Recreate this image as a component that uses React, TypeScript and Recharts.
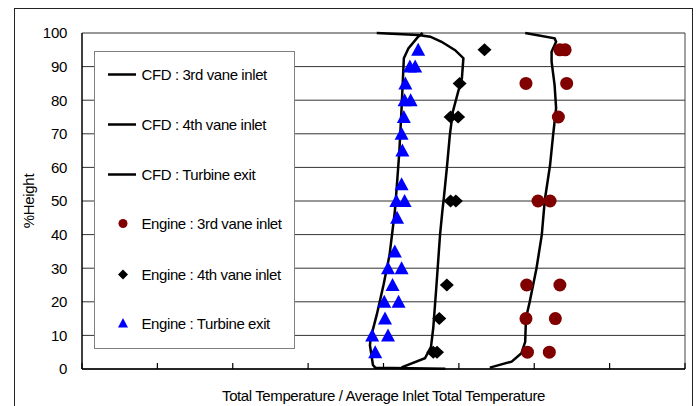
import {
  CartesianGrid,
  Legend,
  ReferenceLine,
  Scatter,
  ScatterChart,
  XAxis,
  YAxis
} from "recharts"

interface Pt {
  x: number,
  y: number,
}

const heightTicks = [0, 10, 20, 30, 40, 50, 60, 70, 80, 90, 100]
const tempTicks = [0.6, 0.7, 0.8, 0.9, 1.0, 1.1, 1.2, 1.3, 1.4]

const cfd3rdVane: Pt[] = [
  { x: 1.188, y: 100 }, { x: 1.227, y: 98.4 }, { x: 1.229, y: 97.4 }, { x: 1.223, y: 94.4 },
  { x: 1.223, y: 91.5 }, { x: 1.227, y: 84.5 }, { x: 1.229, y: 77.6 }, { x: 1.225, y: 69.6 },
  { x: 1.221, y: 60.7 }, { x: 1.214, y: 50.3 }, { x: 1.21, y: 39.9 }, { x: 1.203, y: 30 },
  { x: 1.194, y: 20 }, { x: 1.189, y: 15.1 }, { x: 1.188, y: 8.1 }, { x: 1.183, y: 4.7 },
  { x: 1.17, y: 2.2 }, { x: 1.141, y: 0.4 }
]

const cfd4thVane: Pt[] = [
  { x: 0.991, y: 100 }, { x: 1.046, y: 99.4 }, { x: 1.062, y: 98.9 }, { x: 1.077, y: 97.4 },
  { x: 1.095, y: 94.9 }, { x: 1.106, y: 92.5 }, { x: 1.104, y: 86.5 }, { x: 1.099, y: 82.5 },
  { x: 1.092, y: 76.6 }, { x: 1.088, y: 69.6 }, { x: 1.084, y: 59.7 }, { x: 1.08, y: 50.8 },
  { x: 1.078, y: 46.8 }, { x: 1.075, y: 39.9 }, { x: 1.07, y: 24.1 }, { x: 1.066, y: 12.2 },
  { x: 1.063, y: 6.6 }, { x: 1.055, y: 3.2 }, { x: 1.024, y: 0.5 }
]

const cfdTurbineExit: Pt[] = [
  { x: 1.052, y: 100 }, { x: 1.046, y: 98.9 }, { x: 1.033, y: 95.4 }, { x: 1.027, y: 92.5 },
  { x: 1.026, y: 87.5 }, { x: 1.024, y: 77.7 }, { x: 1.021, y: 64.7 }, { x: 1.018, y: 55.4 },
  { x: 1.015, y: 46.8 }, { x: 1.008, y: 33.9 }, { x: 1.0, y: 25 }, { x: 0.991, y: 16.1 },
  { x: 0.983, y: 9.2 }, { x: 0.982, y: 7.1 }, { x: 0.986, y: 1.2 }, { x: 0.989, y: 0.4 },
  { x: 1.082, y: 0.1 }
]

const engine3rdVane: Pt[] = [
  { x: 1.234, y: 95 }, { x: 1.241, y: 95 }, { x: 1.189, y: 85 }, { x: 1.243, y: 85 },
  { x: 1.232, y: 75 }, { x: 1.205, y: 50 }, { x: 1.221, y: 50 }, { x: 1.19, y: 25 },
  { x: 1.234, y: 25 }, { x: 1.189, y: 15 }, { x: 1.228, y: 15 }, { x: 1.191, y: 5 },
  { x: 1.22, y: 5 }
]

const engine4thVane: Pt[] = [
  { x: 1.134, y: 95 }, { x: 1.101, y: 85 }, { x: 1.089, y: 75 }, { x: 1.099, y: 75 },
  { x: 1.089, y: 50 }, { x: 1.096, y: 50 }, { x: 1.084, y: 25 }, { x: 1.074, y: 15 },
  { x: 1.066, y: 5 }, { x: 1.071, y: 5 }
]

const engineTurbineExit: Pt[] = [
  { x: 1.046, y: 95 }, { x: 1.035, y: 90 }, { x: 1.042, y: 90 }, { x: 1.029, y: 85 },
  { x: 1.028, y: 80 }, { x: 1.036, y: 80 }, { x: 1.027, y: 75 }, { x: 1.024, y: 70 },
  { x: 1.025, y: 65 }, { x: 1.024, y: 55 }, { x: 1.017, y: 50 }, { x: 1.028, y: 50 },
  { x: 1.018, y: 45 }, { x: 1.015, y: 35 }, { x: 1.006, y: 30 }, { x: 1.024, y: 30 },
  { x: 1.012, y: 25 }, { x: 1.001, y: 20 }, { x: 1.02, y: 20 }, { x: 1.002, y: 15 },
  { x: 0.985, y: 10 }, { x: 1.006, y: 10 }, { x: 0.989, y: 5 }
]

const legendLabels = [
  "CFD : 3rd vane inlet",
  "CFD : 4th vane inlet",
  "CFD : Turbine exit",
  "Engine : 3rd vane inlet",
  "Engine : 4th vane inlet",
  "Engine : Turbine exit"
]

const FONT = "'Liberation Sans', Arial, sans-serif"
const RED = "#800000"
const BLUE = "#0000ff"

const NoMarker = () => <g />

const Dot = (p: any) => <circle cx={p.cx} cy={p.cy} r={6.5} fill={RED} />

const Diamond = (p: any) => (
  <path d={`M${p.cx},${p.cy - 6.5} L${p.cx + 7},${p.cy} L${p.cx},${p.cy + 6.5} L${p.cx - 7},${p.cy} Z`} fill="#000" />
)

const Triangle = (p: any) => (
  <path d={`M${p.cx},${p.cy - 7} L${p.cx + 7},${p.cy + 6} L${p.cx - 7},${p.cy + 6} Z`} fill={BLUE} />
)

const InwardTick = (p: any) => (
  <line x1={p.x} y1={p.y} x2={p.x} y2={p.y - 6} stroke="#000" strokeWidth={1.2} />
)

const LegendBox = () => {
  const rows = [24, 74, 124, 173, 224, 273]
  return (
    <div style={{
      width: 201, height: 298, boxSizing: "border-box",
      border: "1.5px solid #808080", background: "#fff"
    }}>
      <svg width={198} height={295} style={{ display: "block" }}>
        {legendLabels.map((label, i) => {
          const y = rows[i] - 1.5
          let sym
          if (i < 3) sym = <line x1={13} x2={41} y1={y} y2={y} stroke="#000" strokeWidth={2.5} />
          else if (i === 3) sym = <circle cx={28} cy={y} r={4.5} fill={RED} />
          else if (i === 4) sym = <path d={`M28,${y - 5} L33,${y} L28,${y + 5} L23,${y} Z`} fill="#000" />
          else sym = <path d={`M28,${y - 5.5} L33,${y + 4} L23,${y + 4} Z`} fill={BLUE} />
          return (
            <g key={label}>
              {sym}
              <text x={46.5} y={y} dy="0.36em" fontFamily={FONT} fontSize={15}
                letterSpacing={-0.4} fill="#000">{label}</text>
            </g>
          )
        })}
      </svg>
    </div>
  )
}

const App = () => {
  return (
    <div style={{ position: "absolute", left: 0, top: 0, width: 697, height: 406, background: "#fff" }}>
      <div style={{
        position: "absolute", left: 14, top: 8, width: 679, height: 398,
        boxSizing: "border-box", borderTop: "1px solid #222", borderLeft: "1px solid #222",
        borderRight: "1px solid #222"
      }} />
      <ScatterChart width={697} height={406} margin={{ top: 33, right: 12, bottom: 0, left: 0 }}>
        <CartesianGrid horizontal vertical={false} stroke="#333" strokeWidth={1} />
        <XAxis
          type="number"
          dataKey="x"
          domain={[0.6, 1.4]}
          ticks={tempTicks}
          height={37}
          tickSize={0}
          tickMargin={0}
          tickLine={false}
          tick={InwardTick}
          axisLine={{ stroke: "#000", strokeWidth: 1.5 }}
          label={{
            value: "Total Temperature / Average Inlet Total Temperature",
            position: "insideBottom",
            offset: 5,
            style: { fontFamily: FONT, fontSize: 15, letterSpacing: -0.4, fill: "#000" }
          }}
        />
        <YAxis
          type="number"
          dataKey="y"
          domain={[0, 100]}
          ticks={heightTicks}
          width={82}
          tickSize={0}
          tickMargin={15}
          tickLine={false}
          axisLine={{ stroke: "#000", strokeWidth: 1.5 }}
          tick={{ fontFamily: FONT, fontSize: 15, fill: "#000", letterSpacing: -0.3 }}
          label={(props: any) => {
            const vb = props.viewBox || { x: 0, y: 33, width: 82, height: 336 }
            const cx = vb.x + 29
            const cy = vb.y + vb.height / 2
            return (
              <text x={cx} y={cy} transform={`rotate(-90 ${cx} ${cy})`} textAnchor="middle"
                dy="0.36em" fontFamily={FONT} fontSize={15} letterSpacing={-0.3} fill="#000">
                %Height
              </text>
            )
          }}
        />
        <ReferenceLine x={1.4} stroke="#444" strokeWidth={1} />
        <Legend
          layout="vertical"
          align="center"
          verticalAlign="middle"
          content={LegendBox}
          wrapperStyle={{ position: "absolute", left: 94, top: 51, width: 201, height: 298 }}
        />
        <Scatter name="CFD : 3rd vane inlet" data={cfd3rdVane} line={{ stroke: "#000", strokeWidth: 2.5 }}
          shape={NoMarker} isAnimationActive={false} />
        <Scatter name="CFD : 4th vane inlet" data={cfd4thVane} line={{ stroke: "#000", strokeWidth: 2.5 }}
          shape={NoMarker} isAnimationActive={false} />
        <Scatter name="CFD : Turbine exit" data={cfdTurbineExit} line={{ stroke: "#000", strokeWidth: 2.5 }}
          shape={NoMarker} isAnimationActive={false} />
        <Scatter name="Engine : 3rd vane inlet" data={engine3rdVane} shape={Dot} isAnimationActive={false} />
        <Scatter name="Engine : 4th vane inlet" data={engine4thVane} shape={Diamond} isAnimationActive={false} />
        <Scatter name="Engine : Turbine exit" data={engineTurbineExit} shape={Triangle} isAnimationActive={false} />
      </ScatterChart>
    </div>
  )
}

export default App
